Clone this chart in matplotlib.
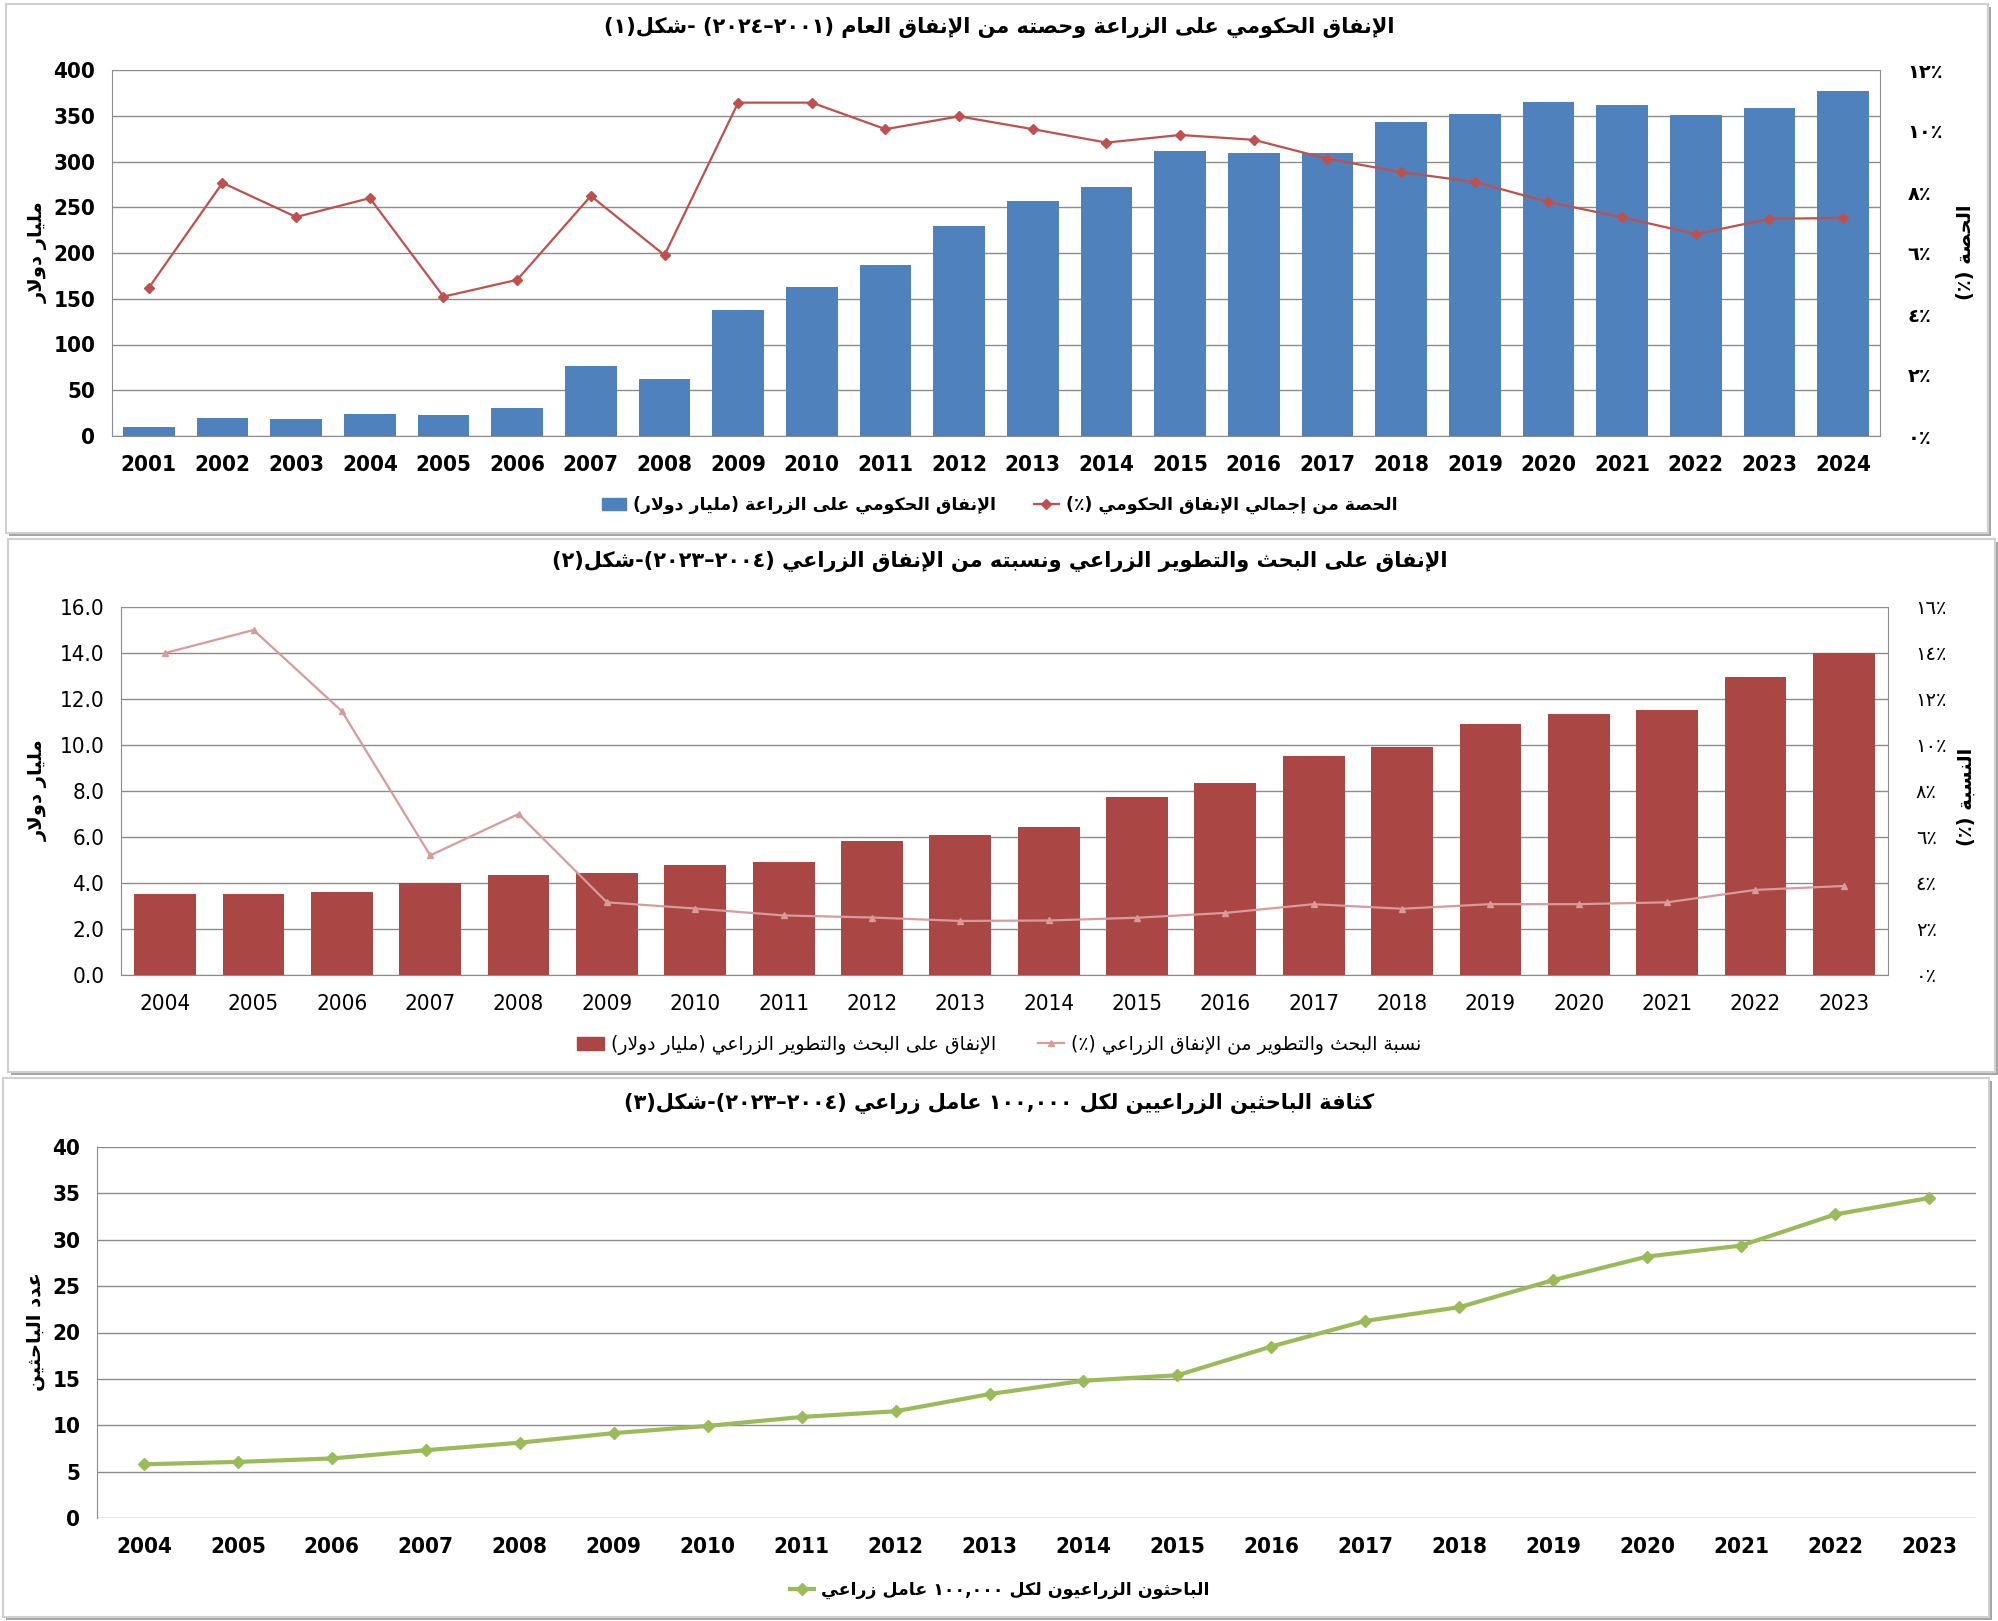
import re

import matplotlib.pyplot as plt
from matplotlib.lines import Line2D
from matplotlib.patches import Patch, Rectangle

# ---- data ----
years_1 = ["2001", "2002", "2003", "2004", "2005", "2006", "2007", "2008",
           "2009", "2010", "2011", "2012", "2013", "2014", "2015", "2016",
           "2017", "2018", "2019", "2020", "2021", "2022", "2023", "2024"]
gov_spend = [10, 20, 19, 24, 23, 31, 76, 62, 138, 163, 187, 229, 257, 272,
             312, 309, 309, 343, 352, 365, 362, 351, 358, 377]
gov_share = [4.86, 8.3, 7.18, 7.8, 4.57, 5.12, 7.87, 5.93, 10.93, 10.93,
             10.06, 10.48, 10.06, 9.62, 9.87, 9.71, 9.09, 8.65, 8.33, 7.67,
             7.17, 6.62, 7.12, 7.15]

years_2 = ["2004", "2005", "2006", "2007", "2008", "2009", "2010", "2011",
           "2012", "2013", "2014", "2015", "2016", "2017", "2018", "2019",
           "2020", "2021", "2022", "2023"]
rd_spend = [3.52, 3.52, 3.61, 3.99, 4.34, 4.43, 4.77, 4.90, 5.81, 6.08,
            6.42, 7.72, 8.36, 9.54, 9.93, 10.92, 11.36, 11.52, 12.95, 13.99]
rd_share = [14.0, 15.0, 11.47, 5.2, 7.0, 3.16, 2.89, 2.59, 2.5, 2.35,
            2.37, 2.49, 2.70, 3.08, 2.88, 3.08, 3.08, 3.16, 3.70, 3.87]

years_3 = years_2
researchers = [5.79, 6.05, 6.42, 7.31, 8.12, 9.15, 9.93, 10.89, 11.51, 13.36,
               14.80, 15.39, 18.49, 21.25, 22.73, 25.65, 28.19, 29.37, 32.73, 34.5]

title_1 = "الإنفاق الحكومي على الزراعة وحصته من الإنفاق العام (٢٠٠١–٢٠٢٤) -شكل(١)"
title_2 = "الإنفاق على البحث والتطوير الزراعي ونسبته من الإنفاق الزراعي (٢٠٠٤–٢٠٢٣)-شكل(٢)"
title_3 = "كثافة الباحثين الزراعيين لكل ١٠٠,٠٠٠ عامل زراعي (٢٠٠٤–٢٠٢٣)-شكل(٣)"
leg_1 = ["الإنفاق الحكومي على الزراعة (مليار دولار)", "الحصة من إجمالي الإنفاق الحكومي (٪)"]
leg_2 = ["الإنفاق على البحث والتطوير الزراعي (مليار دولار)", "نسبة البحث والتطوير من الإنفاق الزراعي (٪)"]
leg_3 = ["الباحثون الزراعيون لكل ١٠٠,٠٠٠ عامل زراعي"]
ylab_usd = "مليار دولار"
ylab_share = "الحصة (٪)"
ylab_ratio = "النسبة (٪)"
ylab_count = "عدد الباحثين"

# ---- tiny arabic shaping + bidi (matplotlib 3.10 has no shaping) ----
DUAL = {'ئ': 0xFE89, 'ب': 0xFE8F, 'ت': 0xFE95, 'ث': 0xFE99, 'ج': 0xFE9D,
        'ح': 0xFEA1, 'خ': 0xFEA5, 'س': 0xFEB1, 'ش': 0xFEB5, 'ص': 0xFEB9,
        'ض': 0xFEBD, 'ط': 0xFEC1, 'ظ': 0xFEC5, 'ع': 0xFEC9, 'غ': 0xFECD,
        'ف': 0xFED1, 'ق': 0xFED5, 'ك': 0xFED9, 'ل': 0xFEDD, 'م': 0xFEE1,
        'ن': 0xFEE5, 'ه': 0xFEE9, 'ي': 0xFEF1}
RIGHT = {'آ': 0xFE81, 'أ': 0xFE83, 'ؤ': 0xFE85, 'إ': 0xFE87, 'ا': 0xFE8D,
         'ة': 0xFE93, 'د': 0xFEA9, 'ذ': 0xFEAB, 'ر': 0xFEAD, 'ز': 0xFEAF,
         'و': 0xFEED, 'ى': 0xFEEF}
LAM_ALEF = {'آ': 0xFEF5, 'أ': 0xFEF7, 'إ': 0xFEF9, 'ا': 0xFEFB}
MIRROR = {'(': ')', ')': '('}


def shape(s):
    toks = []
    i = 0
    while i < len(s):
        if s[i] == 'ل' and i + 1 < len(s) and s[i + 1] in LAM_ALEF:
            toks.append(('LA', s[i + 1]))
            i += 2
        else:
            toks.append(('C', s[i]))
            i += 1

    def joins_next(t):
        return t[0] == 'C' and t[1] in DUAL

    def joins_prev(t):
        return t[0] == 'LA' or t[1] in DUAL or t[1] in RIGHT

    out = []
    for k, t in enumerate(toks):
        p = k > 0 and joins_next(toks[k - 1]) and joins_prev(t)
        n = k + 1 < len(toks) and joins_next(t) and joins_prev(toks[k + 1])
        if t[0] == 'LA':
            out.append(chr(LAM_ALEF[t[1]] + (1 if p else 0)))
        elif t[1] in DUAL:
            out.append(chr(DUAL[t[1]] + (3 if p and n else 2 if n else 1 if p else 0)))
        elif t[1] in RIGHT:
            out.append(chr(RIGHT[t[1]] + (1 if p else 0)))
        else:
            out.append(t[1])
    return ''.join(out)


def ar(s):
    s = shape(s)
    runs = re.findall(r'[0-9٠-٩]+(?:[,.٬][0-9٠-٩]+)*|[^0-9٠-٩]+', s)
    vis = []
    for r in runs[::-1]:
        if r[0].isdigit():
            vis.append(r)
        else:
            vis.append(''.join(MIRROR.get(c, c) for c in r[::-1]))
    return ''.join(vis)


AR_DIG = str.maketrans('0123456789', '٠١٢٣٤٥٦٧٨٩')
AR_FONT = ['DejaVu Sans']
GRID = '#8c8c8c'

W, H = 1999, 1621
fig = plt.figure(figsize=(W / 100, H / 100), dpi=100)


def panel(x0, y0, x1, y1):
    # y measured from the top in pixels
    fig.add_artist(Rectangle(((x0 + 3) / W, (H - y1 - 3) / H), (x1 - x0) / W, (y1 - y0) / H,
                             transform=fig.transFigure, facecolor='#a6a6a6',
                             edgecolor='none', zorder=-3))
    fig.add_artist(Rectangle((x0 / W, (H - y1) / H), (x1 - x0) / W, (y1 - y0) / H,
                             transform=fig.transFigure, facecolor='white',
                             edgecolor='#d0d0d0', lw=1.5, zorder=-2))


def axes_px(x0, y0, x1, y1):
    return fig.add_axes([x0 / W, (H - y1) / H, (x1 - x0) / W, (y1 - y0) / H], facecolor='none')


def style(ax, bold, right_border=True):
    ax.set_axisbelow(True)
    ax.yaxis.grid(True, color=GRID, lw=1)
    ax.spines['top'].set_visible(False)
    ax.spines['right'].set_visible(right_border)
    for sp in ['left', 'bottom', 'right']:
        ax.spines[sp].set_color(GRID)
    ax.tick_params(length=0)
    ax.tick_params(axis='x', pad=14)
    ax.tick_params(axis='y', pad=12)
    w = 'bold' if bold else 'normal'
    for lab in ax.get_xticklabels() + ax.get_yticklabels():
        lab.set_family('DejaVu Sans')
        lab.set_stretch('condensed')
        lab.set_fontsize(16)
        lab.set_fontweight(w)


def right_axis(ax, top, step, bold):
    ax2 = ax.twinx()
    ax2.set_ylim(0, top)
    ticks = list(range(0, top + 1, step))
    ax2.set_yticks(ticks)
    ax2.set_yticklabels([str(t).translate(AR_DIG) + '٪' for t in ticks],
                        family=AR_FONT, fontsize=14,
                        fontweight='bold' if bold else 'normal')
    ax2.tick_params(length=0, pad=20)
    for sp in ax2.spines.values():
        sp.set_visible(False)
    return ax2


def ylabel(x, y, text):
    fig.text(x / W, 1 - y / H, ar(text), rotation=90, ha='center', va='center',
             family=AR_FONT, fontsize=14, fontweight='bold')


def title(y, text):
    fig.text(0.5, 1 - y / H, ar(text), ha='center', va='center',
             family=AR_FONT, fontsize=15, fontweight='bold')


# ================= chart 1 =================
panel(6, 4, 1988, 533)
ax = axes_px(112, 70, 1880, 436)
x1 = range(len(years_1))
ax.bar(x1, gov_spend, width=0.7, color='#4F81BD', zorder=2)
ax.set_xlim(-0.5, len(years_1) - 0.5)
ax.set_ylim(0, 400)
ax.set_yticks(range(0, 401, 50))
ax.set_xticks(list(x1))
ax.set_xticklabels(years_1)
style(ax, True)
ax2 = right_axis(ax, 12, 2, True)
ax2.plot(x1, gov_share, color='#C0504D', lw=1.6, marker='D', ms=5, zorder=3)
title(28, title_1)
ylabel(38, 252, ylab_usd)
ylabel(1966, 252, ylab_share)
h1 = [Patch(color='#4F81BD'),
      Line2D([], [], color='#C0504D', lw=1.6, marker='D', ms=5)]
fig.legend(h1, [ar(t) for t in leg_1], loc='center', bbox_to_anchor=(0.5, 1 - 505 / H),
           ncol=2, frameon=False, columnspacing=2.2, handlelength=1.4, handletextpad=0.4,
           prop={'family': AR_FONT, 'size': 12.5, 'weight': 'bold'})

# ================= chart 2 =================
panel(8, 539, 1995, 1072)
ax = axes_px(121, 607, 1888, 975)
x2 = range(len(years_2))
ax.bar(x2, rd_spend, width=0.7, color='#AA4643', zorder=2)
ax.set_xlim(-0.5, len(years_2) - 0.5)
ax.set_ylim(0, 16)
ax.set_yticks(range(0, 17, 2))
ax.set_yticklabels([f"{v:.1f}" for v in range(0, 17, 2)])
ax.set_xticks(list(x2))
ax.set_xticklabels(years_2)
style(ax, False)
ax2 = right_axis(ax, 16, 2, False)
ax2.plot(x2, rd_share, color='#D69B9A', lw=1.6, marker='^', ms=5, zorder=3)
title(562, title_2)
ylabel(38, 790, ylab_usd)
ylabel(1966, 797, ylab_ratio)
h2 = [Patch(color='#AA4643'),
      Line2D([], [], color='#D69B9A', lw=1.6, marker='^', ms=5)]
fig.legend(h2, [ar(t) for t in leg_2], loc='center', bbox_to_anchor=(0.5, 1 - 1045 / H),
           ncol=2, frameon=False, columnspacing=2.2, handlelength=1.4, handletextpad=0.4,
           prop={'family': AR_FONT, 'size': 13.5})

# ================= chart 3 =================
panel(3, 1078, 1989, 1617)
ax = axes_px(97, 1147, 1976, 1518)
x3 = range(len(years_3))
ax.plot(x3, researchers, color='#9BBB59', lw=3, marker='D', ms=6, zorder=3)
ax.set_xlim(-0.5, len(years_3) - 0.5)
ax.set_ylim(0, 40)
ax.set_yticks(range(0, 41, 5))
ax.set_xticks(list(x3))
ax.set_xticklabels(years_3)
style(ax, True, right_border=False)
ax.spines['bottom'].set_visible(False)
title(1103, title_3)
ylabel(36, 1332, ylab_count)
h3 = [Line2D([], [], color='#9BBB59', lw=3, marker='D', ms=6)]
fig.legend(h3, [ar(t) for t in leg_3], loc='center', bbox_to_anchor=(0.5, 1 - 1590 / H),
           ncol=1, frameon=False, handlelength=1.4, handletextpad=0.4,
           prop={'family': AR_FONT, 'size': 12.5, 'weight': 'bold'})

fig.savefig('out.png', dpi=100)
